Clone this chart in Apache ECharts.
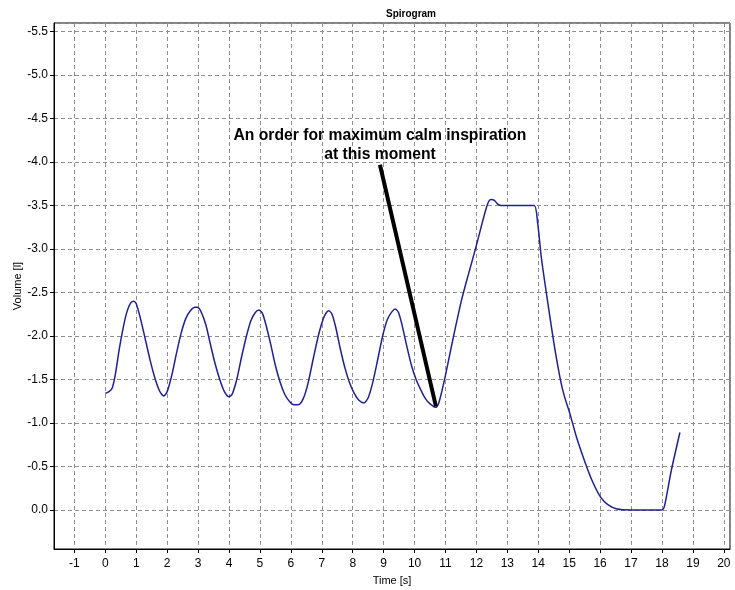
<!DOCTYPE html>
<html>
<head>
<meta charset="utf-8">
<script src="https://cdn.jsdelivr.net/npm/echarts@6/dist/echarts.min.js"></script>
<style>
  html, body { margin: 0; padding: 0; background: #fff; }
  #chart { width: 735px; height: 590px; }
</style>
</head>
<body>
<div id="chart"></div>
<script>
// Spirogram trace: time in seconds, volume in litres (inspiration is negative, axis drawn inverted)
const timeSec = [
  0.00, 0.12, 0.22, 0.32, 0.45, 0.58, 0.70, 0.82, 0.92, 1.00, 1.15, 1.30, 1.45, 1.60, 1.75, 1.89,
  2.00, 2.15, 2.30, 2.45, 2.60, 2.75, 2.90, 2.97, 3.08, 3.25, 3.40, 3.55, 3.70, 3.85, 4.00,
  4.10, 4.25, 4.40, 4.55, 4.70, 4.85, 4.97, 5.08, 5.20, 5.35, 5.50, 5.65, 5.80, 5.95, 6.10, 6.24,
  6.40, 6.55, 6.73, 6.90, 7.05, 7.15, 7.23, 7.33, 7.45, 7.60, 7.75, 7.90, 8.05, 8.20, 8.36,
  8.50, 8.65, 8.82, 8.98, 9.12, 9.27, 9.38, 9.48, 9.60, 9.75, 9.90, 10.05, 10.20, 10.35, 10.50, 10.69,
  10.80, 11.00, 11.25, 11.53, 11.75, 11.96, 12.15, 12.30, 12.40, 12.48, 12.58, 12.68, 12.80,
  13.00, 13.50, 13.87, 13.98, 14.10, 14.28, 14.50, 14.72, 14.85, 15.02, 15.25, 15.52, 15.75, 16.01,
  16.25, 16.55, 17.00, 17.50, 18.00, 18.08, 18.30, 18.58
];
const volumeL = [
  -1.34, -1.36, -1.40, -1.55, -1.85, -2.10, -2.28, -2.38, -2.40, -2.37, -2.18, -1.95, -1.72, -1.52, -1.37, -1.31,
  -1.36, -1.55, -1.80, -2.03, -2.20, -2.29, -2.33, -2.33, -2.29, -2.13, -1.90, -1.68, -1.50, -1.36, -1.30,
  -1.33, -1.50, -1.75, -1.98, -2.17, -2.27, -2.30, -2.26, -2.12, -1.90, -1.66, -1.47, -1.33, -1.25, -1.21, -1.21,
  -1.28, -1.45, -1.75, -2.02, -2.20, -2.27, -2.29, -2.25, -2.10, -1.85, -1.63, -1.46, -1.34, -1.26, -1.23,
  -1.29, -1.47, -1.75, -2.02, -2.19, -2.28, -2.31, -2.27, -2.12, -1.88, -1.66, -1.50, -1.38, -1.28, -1.22, -1.18,
  -1.25, -1.55, -1.98, -2.43, -2.72, -2.99, -3.25, -3.45, -3.55, -3.57, -3.56, -3.52, -3.50,
  -3.50, -3.50, -3.50, -3.30, -2.90, -2.45, -1.93, -1.49, -1.30, -1.11, -0.82, -0.54, -0.33, -0.15,
  -0.06, -0.01, 0.00, 0.00, 0.00, -0.04, -0.45, -0.89
];

// Pointer from the note to the start of the maximal inspiration
const pointerTime = [8.88, 10.69];
const pointerVolume = [-3.97, -1.19];
const noteText = 'An order for maximum calm inspiration\nat this moment';

// Axis ranges and steps
const xRange = [-1.66, 20.2];
const xStep = 1;
const yRange = [-5.6, 0.45];
const yStep = 0.5;

const trace = timeSec.map((t, i) => [t, volumeL[i]]);
const pointer = pointerTime.map((t, i) => [t, pointerVolume[i]]);

const font = '"Liberation Sans", Arial, sans-serif';
const gridLine = { show: true, lineStyle: { color: '#8f8f8f', width: 1, type: [4, 3] } };

const chart = echarts.init(document.getElementById('chart'), null, { renderer: 'canvas' });
chart.setOption({
  animation: false,
  backgroundColor: '#fff',
  title: {
    text: 'Spirogram',
    left: 406, top: 4, textAlign: 'center',
    textStyle: { fontFamily: font, fontSize: 10, fontWeight: 'bold', color: '#000' }
  },
  grid: {
    left: 54, top: 23, right: 5, bottom: 41,
    containLabel: false, outerBoundsMode: 'none',
    show: true, borderColor: '#000', borderWidth: 1, backgroundColor: 'transparent'
  },
  xAxis: {
    type: 'value',
    min: xRange[0], max: xRange[1],
    minInterval: xStep, maxInterval: xStep, splitNumber: 22,
    name: 'Time [s]', nameLocation: 'middle', nameGap: 26, nameMoveOverlap: false,
    nameTextStyle: { fontFamily: font, fontSize: 11, color: '#000' },
    axisLine: { onZero: false, lineStyle: { color: '#000', width: 1 } },
    axisTick: { show: true, inside: false, length: 4, lineStyle: { color: '#000' } },
    axisLabel: {
      fontFamily: font, fontSize: 12, color: '#000', margin: 9,
      showMinLabel: false, showMaxLabel: false,
      formatter: v => String(Math.round(v))
    },
    splitLine: gridLine
  },
  yAxis: {
    type: 'value',
    inverse: true,
    min: yRange[0], max: yRange[1],
    minInterval: yStep, maxInterval: yStep, splitNumber: 12,
    name: 'Volume [l]', nameLocation: 'middle', nameGap: 31, nameRotate: 90, nameMoveOverlap: false,
    nameTextStyle: { fontFamily: font, fontSize: 11, color: '#000' },
    axisLine: { onZero: false, lineStyle: { color: '#000', width: 1 } },
    axisTick: { show: true, inside: false, length: 4, lineStyle: { color: '#000' } },
    axisLabel: {
      fontFamily: font, fontSize: 12, color: '#000', margin: 6,
      showMinLabel: false, showMaxLabel: false,
      formatter: v => v.toFixed(1)
    },
    splitLine: gridLine
  },
  series: [
    {
      name: 'Volume',
      type: 'line',
      data: trace,
      showSymbol: false,
      smooth: 0.25,
      lineStyle: { color: '#1f1f96', width: 1.5 },
      z: 3
    },
    {
      name: 'Pointer',
      type: 'line',
      data: pointer,
      showSymbol: false,
      symbol: 'none',
      lineStyle: { color: '#000', width: 4 },
      label: { show: false },
      markPoint: {
        symbol: 'circle', symbolSize: 0,
        data: [{ coord: pointer[0] }],
        label: {
          show: true, position: 'top', distance: 1,
          formatter: noteText,
          fontFamily: font, fontSize: 15.7, fontWeight: 'bold', color: '#000',
          lineHeight: 19, align: 'center'
        }
      },
      z: 4
    }
  ]
});
</script>
</body>
</html>
